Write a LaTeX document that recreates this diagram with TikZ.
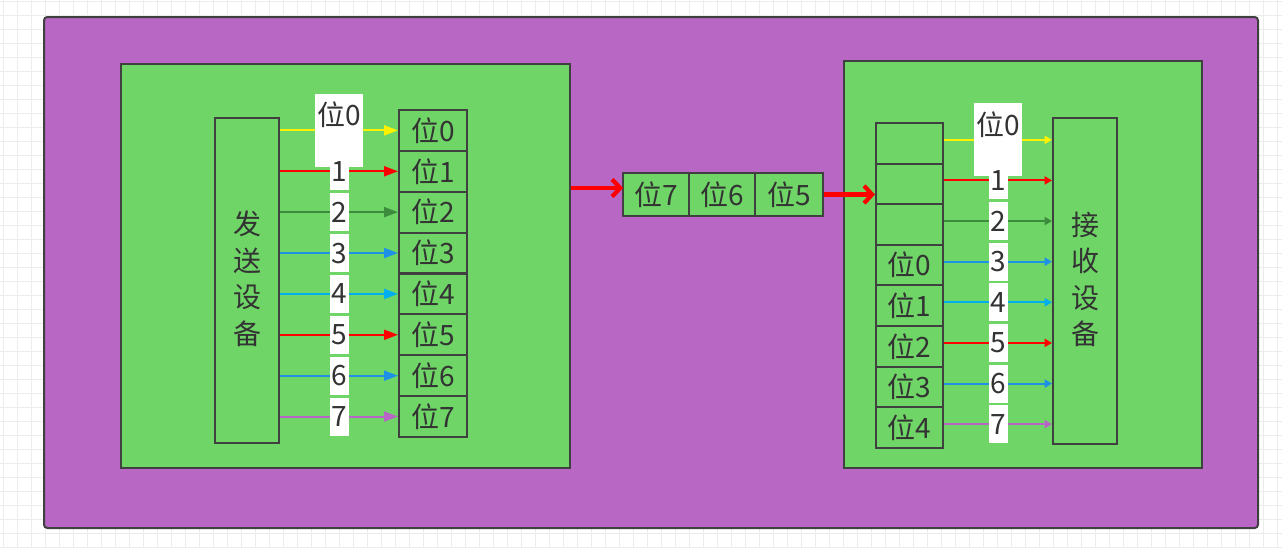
\documentclass[tikz,border=0pt]{standalone}
\usepackage{fontspec}
\newfontfamily\cjk{Noto Sans CJK SC}
\usepackage{xcolor}
\usetikzlibrary{arrows.meta,calc}

\definecolor{bgpurple}{RGB}{184,104,196}
\definecolor{boxgreen}{RGB}{110,213,102}
\definecolor{edge}{RGB}{64,64,64}
\definecolor{ink}{RGB}{51,51,51}
\definecolor{wgreen}{RGB}{61,139,61}
\definecolor{wblue}{RGB}{30,144,230}
\definecolor{wpurple}{RGB}{184,102,198}
\definecolor{gridgray}{RGB}{236,236,236}

\tikzset{
  txt/.style={font=\cjk\fontsize{21}{27.4}\selectfont, text=ink},
  panel/.style={draw=edge, line width=1.5pt, fill=boxgreen, inner sep=0pt},
  cell/.style={panel, txt, minimum width=51pt, minimum height=30.6pt},
  device/.style={panel, txt, align=center, minimum width=48pt, minimum height=244pt},
  lbl/.style={fill=white, txt, inner sep=0pt, minimum width=14.25pt, minimum height=28.5pt},
  lbltall/.style={fill=white, txt, inner sep=0pt, minimum width=36pt, text height=24pt, text depth=31pt},
  wire/.style={line width=1.5pt, -{Triangle[length=10.5pt,width=7.5pt]}},
  wirer/.style={line width=1.5pt, -{Triangle[length=5.5pt,width=6pt]}},
  bus/.style={draw=red, line width=3.2pt, -{Straight Barb[length=6pt,width=13pt]}}
}

\begin{document}
\begin{tikzpicture}[x=0.75pt,y=0.75pt,yscale=-1,xscale=1]
\useasboundingbox (0,0) rectangle (1282,547);

%Canvas grid
\draw[gridgray, line width=0.6pt, step=14, shift={(3,1)}] (-3,-1) grid (1279,546);

%Shape: Rectangle [outer frame]
\draw[draw=edge, line width=1.5pt, fill=bgpurple, rounded corners=2.5pt] (44,17) rectangle (1258,528);

%Shape: Rectangle [sender panel]
\node[panel, minimum width=336.75pt, minimum height=303pt] (sendbox) at (345.5,266) {};
%Shape: Rectangle [receiver panel]
\node[panel, minimum width=268.5pt, minimum height=305.25pt] (recvbox) at (1023,264.5) {};

% Text Node
\node[device, text depth=4pt] (send) at (247,280.5) {发\\送\\设\\备};
% Text Node
\node[device, text depth=4pt] (recv) at (1085,281) {接\\收\\设\\备};

%Shape: Rectangle [sender bits]
\foreach \i in {0,...,7}
  \node[cell] (s\i) at (433,{130.4+40.875*\i}) {位\i};

%Shape: Rectangle [receiver bits]
\foreach \i/\t in {0/{},1/{},2/{},3/位0,4/位1,5/位2,6/位3,7/位4}
  \node[cell, minimum width=50.25pt] (r\i) at (909.5,{143.3+40.625*\i}) {\t};

%Shape: Rectangle [line bits]
\node[cell, minimum width=49.5pt, minimum height=32.25pt] (m7) at (656,194.5) {位7};
\node[cell, minimum width=49.5pt, minimum height=32.25pt] (m6) at (722,194.5) {位6};
\node[cell, minimum width=51pt, minimum height=32.25pt] (m5) at (789,194.5) {位5};

%Straight Lines [sender wires]
\draw[wire, yellow] (send.east |- s0) -- (s0.west) node[midway, lbltall] (ls0) {位0};
\foreach \i/\c in {1/red,2/wgreen,3/wblue,4/cyan,5/red,6/wblue,7/wpurple}
  \draw[wire, \c] (send.east |- s\i) -- (s\i.west) node[midway, lbl] (ls\i) {\i};

%Straight Lines [receiver wires]
\coordinate (a0) at ($(r0.east)+(0,-3.5)$);
\draw[wirer, yellow] (a0) -- (recv.west |- a0) node[midway, lbltall] (lr0) {位0};
\foreach \i/\c in {1/red,2/wgreen,3/wblue,4/cyan,5/red,6/wblue,7/wpurple} {
  \coordinate (a\i) at ($(r\i.east)+(0,-3.5)$);
  \draw[wirer, \c] (a\i) -- (recv.west |- a\i) node[midway, lbl] (lr\i) {\i};
}

%Straight Lines [bus]
\coordinate (busin) at (623,188);
\draw[bus] (sendbox.east |- busin) -- (busin);
\draw[bus] (m5.east) -- (m5.east -| r1.west);

\end{tikzpicture}
\end{document}
